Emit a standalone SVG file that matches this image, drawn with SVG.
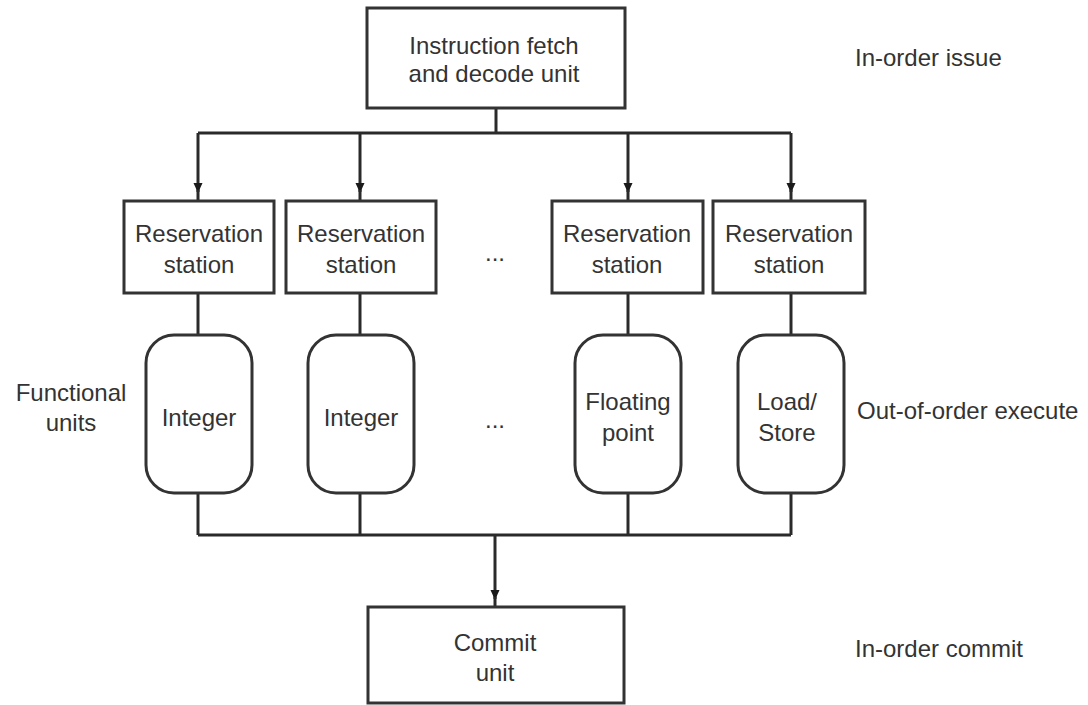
<svg xmlns="http://www.w3.org/2000/svg" width="1088" height="705" viewBox="0 0 1088 705">
  <style>
    .box { fill: #ffffff; stroke: #333333; stroke-width: 3; }
    .wire { fill: none; stroke: #2a2a2a; stroke-width: 3; }
    text { font-family: "Liberation Sans", Arial, sans-serif; font-size: 24px; fill: #333333; text-anchor: middle; dominant-baseline: central; }
    .side { text-anchor: start; }
  </style>
  <defs>
    <!-- tip points along the path direction -->
    <marker id="arrow" markerWidth="10" markerHeight="10" refX="9" refY="5" orient="auto" markerUnits="userSpaceOnUse" viewBox="0 0 10 10">
      <path d="M0,0.5 L10,5 L0,9.5 Z" fill="#1a1a1a"/>
    </marker>
  </defs>

  <!-- connectors -->
  <g id="connectors">
    <!-- issue fan-out -->
    <path class="wire" d="M496,108 V133"/>
    <path class="wire" d="M198,133 H791"/>
    <path class="wire" d="M198,133 V192" marker-end="url(#arrow)"/>
    <path class="wire" d="M360,133 V192" marker-end="url(#arrow)"/>
    <path class="wire" d="M628,133 V192" marker-end="url(#arrow)"/>
    <path class="wire" d="M791,133 V192" marker-end="url(#arrow)"/>
    <path class="wire" d="M198,190 V200 M360,190 V200 M628,190 V200 M791,190 V200" stroke-width="2" stroke="#888888"/>
    <!-- station to unit -->
    <path class="wire" d="M198,293 V335"/>
    <path class="wire" d="M360,293 V335"/>
    <path class="wire" d="M628,293 V335"/>
    <path class="wire" d="M791,293 V335"/>
    <!-- result bus -->
    <path class="wire" d="M198,493 V535"/>
    <path class="wire" d="M360,493 V535"/>
    <path class="wire" d="M628,493 V535"/>
    <path class="wire" d="M791,493 V535"/>
    <path class="wire" d="M198,535 H791"/>
    <path class="wire" d="M495,535 V599" marker-end="url(#arrow)"/>
    <path class="wire" d="M495,597 V607" stroke-width="2" stroke="#888888"/>
  </g>

  <!-- fetch / decode -->
  <g id="fetch-decode">
    <rect class="box" x="367" y="8" width="258" height="100"/>
    <text x="494" y="45">Instruction fetch</text>
    <text x="494" y="73">and decode unit</text>
  </g>

  <!-- reservation stations -->
  <g id="rs1">
    <rect class="box" x="124" y="201" width="150" height="92"/>
    <text x="199" y="233">Reservation</text>
    <text x="199" y="264">station</text>
  </g>
  <g id="rs2">
    <rect class="box" x="286" y="201" width="150" height="92"/>
    <text x="361" y="233">Reservation</text>
    <text x="361" y="264">station</text>
  </g>
  <g id="rs-more">
    <text x="495" y="252">...</text>
  </g>
  <g id="rs3">
    <rect class="box" x="552" y="201" width="151" height="92"/>
    <text x="627" y="233">Reservation</text>
    <text x="627" y="264">station</text>
  </g>
  <g id="rs4">
    <rect class="box" x="713" y="201" width="152" height="92"/>
    <text x="789" y="233">Reservation</text>
    <text x="789" y="264">station</text>
  </g>

  <!-- functional units -->
  <g id="fu-label">
    <text x="71" y="392">Functional</text>
    <text x="71" y="422">units</text>
  </g>
  <g id="fu1">
    <rect class="box" x="146" y="335" width="106" height="158" rx="28" ry="28"/>
    <text x="199" y="417">Integer</text>
  </g>
  <g id="fu2">
    <rect class="box" x="308" y="335" width="106" height="158" rx="28" ry="28"/>
    <text x="361" y="417">Integer</text>
  </g>
  <g id="fu-more">
    <text x="495" y="419">...</text>
  </g>
  <g id="fu3">
    <rect class="box" x="575" y="335" width="106" height="158" rx="28" ry="28"/>
    <text x="628" y="401">Floating</text>
    <text x="628" y="432">point</text>
  </g>
  <g id="fu4">
    <rect class="box" x="738" y="335" width="106" height="158" rx="28" ry="28"/>
    <text x="787" y="401">Load/</text>
    <text x="787" y="432">Store</text>
  </g>

  <!-- commit -->
  <g id="commit">
    <rect class="box" x="368" y="607" width="256" height="96"/>
    <text x="495" y="642">Commit</text>
    <text x="495" y="672">unit</text>
  </g>

  <!-- stage labels -->
  <g id="stage-labels">
    <text class="side" x="855" y="57">In-order issue</text>
    <text class="side" x="857" y="410">Out-of-order execute</text>
    <text class="side" x="855" y="648">In-order commit</text>
  </g>
</svg>
